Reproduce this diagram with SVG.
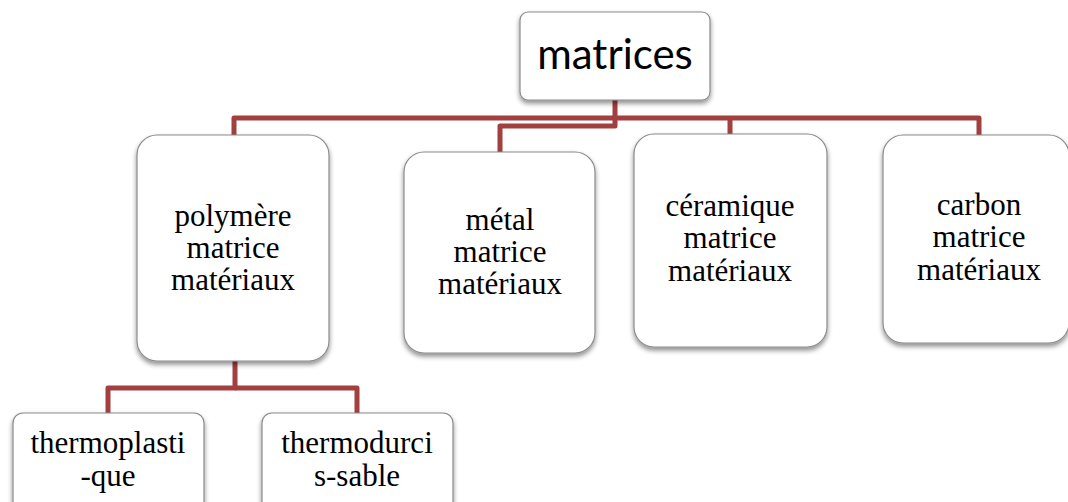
<svg xmlns="http://www.w3.org/2000/svg" width="1068" height="502" viewBox="0 0 1068 502">
  <defs>
    <filter id="shadow" x="-10%" y="-10%" width="120%" height="125%">
      <feGaussianBlur in="SourceAlpha" stdDeviation="2.5"/>
      <feOffset dx="0" dy="3" result="blur"/>
      <feComponentTransfer><feFuncA type="linear" slope="0.45"/></feComponentTransfer>
      <feMerge><feMergeNode/><feMergeNode in="SourceGraphic"/></feMerge>
    </filter>
  </defs>
  <style>
    .box { fill: #ffffff; stroke: #8a8a8a; stroke-width: 1.2; filter: url(#shadow); }
    .lbl { font-family: "Liberation Serif", "Times New Roman", serif; font-size: 31px; fill: #000; text-anchor: middle; }
    .root { font-family: Lato, "Open Sans", sans-serif; font-size: 42px; fill: #000; text-anchor: middle; }
    .wire { fill: none; stroke: #a23f3f; stroke-width: 5; stroke-linejoin: round; }
  </style>
  <rect width="1068" height="502" fill="#ffffff"/>

  <!-- connectors -->
  <g id="connectors">
    <path class="wire" d="M234 135 V118 H979 V135"/>
    <path class="wire" d="M730 118 V134"/>
    <path class="wire" d="M615 100 V126 H500 V152"/>
    <path class="wire" d="M235 361 V388 H108 V413"/>
    <path class="wire" d="M235 388 H357 V413"/>
  </g>

  <!-- root -->
  <g id="node-matrices">
    <rect class="box" x="520" y="12" width="190" height="88" rx="8"/>
    <text class="root" x="615" y="69">matrices</text>
  </g>

  <g id="node-polymere">
    <rect class="box" x="137" y="135" width="192" height="226" rx="20"/>
    <text class="lbl" x="233" y="226">polymère</text>
    <text class="lbl" x="233" y="258">matrice</text>
    <text class="lbl" x="233" y="290">matériaux</text>
  </g>

  <g id="node-metal">
    <rect class="box" x="404" y="152" width="191" height="201" rx="20"/>
    <text class="lbl" x="500" y="230">métal</text>
    <text class="lbl" x="500" y="262">matrice</text>
    <text class="lbl" x="500" y="294">matériaux</text>
  </g>

  <g id="node-ceramique">
    <rect class="box" x="634" y="134" width="193" height="213" rx="20"/>
    <text class="lbl" x="730" y="216">céramique</text>
    <text class="lbl" x="730" y="248">matrice</text>
    <text class="lbl" x="730" y="281">matériaux</text>
  </g>

  <g id="node-carbon">
    <rect class="box" x="883" y="135" width="186" height="208" rx="20"/>
    <text class="lbl" x="979" y="215">carbon</text>
    <text class="lbl" x="979" y="247">matrice</text>
    <text class="lbl" x="979" y="280">matériaux</text>
  </g>

  <g id="node-thermoplastique">
    <rect class="box" x="13" y="413" width="191" height="100" rx="10"/>
    <text class="lbl" x="108" y="453">thermoplasti</text>
    <text class="lbl" x="108" y="486">-que</text>
  </g>

  <g id="node-thermodurcissable">
    <rect class="box" x="262" y="413" width="191" height="100" rx="10"/>
    <text class="lbl" x="357" y="453">thermodurci</text>
    <text class="lbl" x="357" y="486">s-sable</text>
  </g>
</svg>
